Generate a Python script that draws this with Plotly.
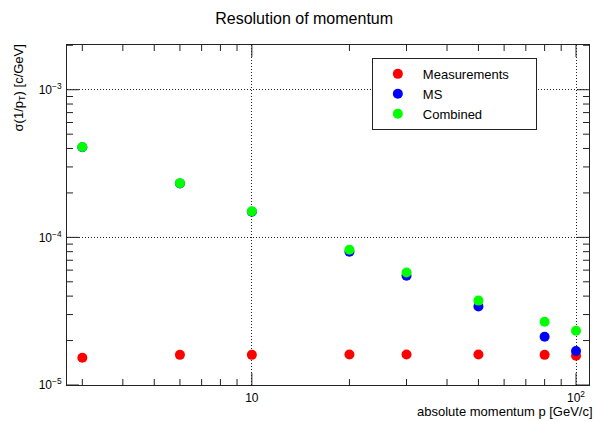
import plotly.graph_objects as go

momentum = [3, 6, 10, 20, 30, 50, 80, 100]
sigma_meas = [1.53e-5, 1.60e-5, 1.60e-5, 1.61e-5, 1.61e-5, 1.61e-5, 1.60e-5, 1.58e-5]
sigma_ms = [4.08e-4, 2.32e-4, 1.49e-4, 8.0e-5, 5.5e-5, 3.40e-5, 2.12e-5, 1.70e-5]
sigma_comb = [4.09e-4, 2.33e-4, 1.50e-4, 8.25e-5, 5.78e-5, 3.73e-5, 2.68e-5, 2.33e-5]

series_names = ["Measurements", "MS", "Combined"]
series_colors = ["#ff0000", "#0000ff", "#00ff00"]

x_tickvals = [10, 100]
x_ticktext = ["10", "10<sup>2</sup>"]
y_tickvals = [1e-5, 1e-4, 1e-3]
y_ticktext = ["10<sup>−5</sup>", "10<sup>−4</sup>", "10<sup>−3</sup>"]

FONT = "Liberation Sans, Arial, Helvetica, sans-serif"
X_RANGE = [0.4298, 2.040]
Y_RANGE = [-5, -2.697]
FRAME = "#222222"
W, H = 594, 421
M = dict(l=67, r=5, t=45, b=36)
PW, PH = W - M["l"] - M["r"], H - M["t"] - M["b"]

# minor tick positions (2..9 x 10^k) for the log axes
x_minor = [m * 10.0 ** k for k in range(0, 3) for m in range(2, 10)]
y_minor = [m * 10.0 ** k for k in range(-6, -2) for m in range(2, 10)]

fig = go.Figure()
for name, vals, col in zip(series_names, [sigma_meas, sigma_ms, sigma_comb], series_colors):
    label = name + ("\u00a0" * 6 if name == "Measurements" else "")
    fig.add_trace(go.Scatter(
        x=momentum, y=vals, mode="markers", name=label, legendgroup=name,
        marker=dict(color=col, size=10, line=dict(width=0)),
    ))

# inward tick marks on all four frame edges (ROOT style), built from the tick lists
def x_tick_path(vals, length):
    f = length / PH
    xs, ys = [], []
    for v in vals:
        xs += [v, v, None, v, v, None]
        ys += [0, f, None, 1, 1 - f, None]
    return xs, ys

def y_tick_path(vals, length):
    f = length / PW
    xs, ys = [], []
    for v in vals:
        xs += [0, f, None, 1, 1 - f, None]
        ys += [v, v, None, v, v, None]
    return xs, ys

for vals, length in [(x_minor, 6), (x_tickvals, 12)]:
    xs, ys = x_tick_path(vals, length)
    fig.add_trace(go.Scatter(x=xs, y=ys, xaxis="x", yaxis="y2", mode="lines",
                             line=dict(color=FRAME, width=1), showlegend=False, hoverinfo="skip"))
for vals, length in [(y_minor, 6), (y_tickvals, 12)]:
    xs, ys = y_tick_path(vals, length)
    fig.add_trace(go.Scatter(x=xs, y=ys, xaxis="x2", yaxis="y", mode="lines",
                             line=dict(color=FRAME, width=1), showlegend=False, hoverinfo="skip"))

fig.update_layout(
    xaxis=dict(type="log", range=X_RANGE, showline=True, linecolor=FRAME, linewidth=1, mirror=True,
               ticks="", showgrid=True, gridcolor=FRAME, gridwidth=1, griddash="1px,2px",
               zeroline=False, tickmode="array", tickvals=x_tickvals, ticktext=x_ticktext,
               ticklabelstandoff=2, tickfont=dict(family=FONT, size=12, color="black")),
    yaxis=dict(type="log", range=Y_RANGE, showline=True, linecolor=FRAME, linewidth=1, mirror=True,
               ticks="", showgrid=True, gridcolor=FRAME, gridwidth=1, griddash="1px,2px",
               zeroline=False, tickmode="array", tickvals=y_tickvals, ticktext=y_ticktext,
               ticklabelstandoff=2, tickfont=dict(family=FONT, size=12, color="black")),
    xaxis2=dict(range=[0, 1], overlaying="x", anchor="y", visible=False, fixedrange=True),
    yaxis2=dict(range=[0, 1], overlaying="y", anchor="x", visible=False, fixedrange=True),
)

fig.update_layout(
    width=W, height=H,
    margin=M,
    paper_bgcolor="white", plot_bgcolor="white",
    font=dict(family=FONT, size=12, color="black"),
    title=dict(text="Resolution of momentum", x=0.512, xanchor="center", y=0.957, yanchor="middle",
               font=dict(family=FONT, size=16, color="black")),
    legend=dict(x=0.584, y=0.962, xanchor="left", yanchor="top", bgcolor="white",
                bordercolor=FRAME, borderwidth=1, font=dict(family=FONT, size=13),
                tracegroupgap=5, traceorder="normal", itemwidth=40),
    showlegend=True,
    annotations=[
        dict(text="σ(1/p<sub>T</sub>) [c/GeV]", textangle=-90, xref="paper", yref="paper",
             x=-0.092, y=1.009, xanchor="center", yanchor="top", showarrow=False,
             font=dict(family=FONT, size=13)),
        dict(text="absolute momentum p [GeV/c]", xref="paper", yref="paper",
             x=1.012, y=-0.078, xanchor="right", yanchor="middle", showarrow=False,
             font=dict(family=FONT, size=13)),
    ],
)

fig.write_html("out.html")
